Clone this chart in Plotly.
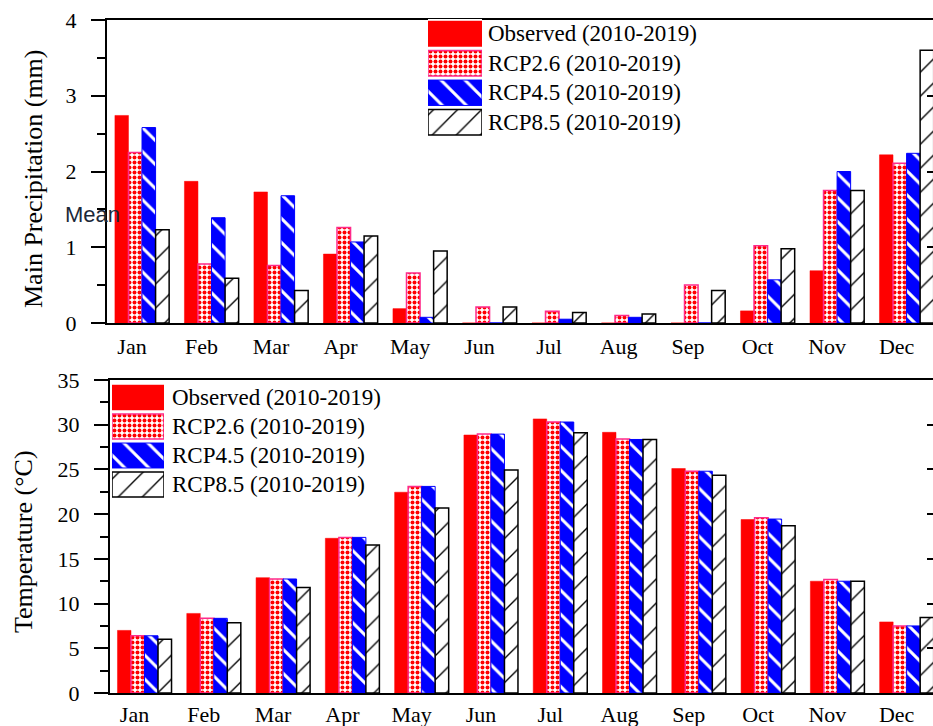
import plotly.graph_objects as go

W, H = 933, 726

months = ["Jan", "Feb", "Mar", "Apr", "May", "Jun", "Jul", "Aug", "Sep", "Oct", "Nov", "Dec"]
series_names = ["Observed (2010-2019)", "RCP2.6 (2010-2019)", "RCP4.5 (2010-2019)", "RCP8.5 (2010-2019)"]

# Mean precipitation (mm)
obs_p = [2.74, 1.87, 1.73, 0.91, 0.19, 0, 0, 0, 0, 0.16, 0.69, 2.22]
rcp26_p = [2.25, 0.78, 0.76, 1.26, 0.66, 0.21, 0.155, 0.10, 0.50, 1.02, 1.75, 2.11]
rcp45_p = [2.58, 1.39, 1.68, 1.07, 0.075, 0, 0.05, 0.075, 0, 0.57, 2.0, 2.24]
rcp85_p = [1.23, 0.59, 0.43, 1.15, 0.95, 0.21, 0.14, 0.12, 0.43, 0.98, 1.75, 3.60]

# Temperature (°C)
obs_t = [7.0, 8.9, 12.9, 17.3, 22.45, 28.85, 30.65, 29.15, 25.1, 19.4, 12.5, 7.95]
rcp26_t = [6.4, 8.35, 12.75, 17.4, 23.1, 28.95, 30.3, 28.4, 24.8, 19.6, 12.7, 7.5]
rcp45_t = [6.4, 8.35, 12.75, 17.4, 23.1, 28.95, 30.3, 28.35, 24.8, 19.45, 12.5, 7.5]
rcp85_t = [6.0, 7.85, 11.8, 16.55, 20.7, 24.95, 29.1, 28.35, 24.35, 18.7, 12.5, 8.45]

SERIF = "Liberation Serif, Times New Roman, serif"

styles = [
    dict(color="#ff0000", line=dict(color="#ff0000", width=0.5), pattern=dict(shape="")),
    dict(color="#ffffff", line=dict(color="#ff2a8a", width=1.5),
         pattern=dict(shape=".", fgcolor="#ff0000", bgcolor="#ffffff", size=5, solidity=0.5, fgopacity=1)),
    dict(color="#0000ff", line=dict(color="#0000ff", width=1),
         pattern=dict(shape="\\", fgcolor="#ffffff", bgcolor="#0000ff", size=17, solidity=0.18, fgopacity=1)),
    dict(color="#ffffff", line=dict(color="#000000", width=1.5),
         pattern=dict(shape="/", fgcolor="#000000", bgcolor="#ffffff", size=17, solidity=0.08, fgopacity=1)),
]

x_idx = list(range(len(months)))
fig = go.Figure()

precip = [obs_p, rcp26_p, rcp45_p, rcp85_p]
temp = [obs_t, rcp26_t, rcp45_t, rcp85_t]

for name, vals, st in zip(series_names, precip, styles):
    fig.add_trace(go.Bar(x=x_idx, y=vals, name=name, marker=st, xaxis="x", yaxis="y",
                         showlegend=False, offsetgroup=name))
for name, vals, st in zip(series_names, temp, styles):
    fig.add_trace(go.Bar(x=x_idx, y=vals, name=name, marker=st, xaxis="x2", yaxis="y2",
                         showlegend=False, offsetgroup=name))

# custom legend swatches (horizontal bars on hidden axes)
legend_rows = list(range(len(series_names)))
for i, st in enumerate(styles):
    fig.add_trace(go.Bar(x=[1], y=[legend_rows[i]], orientation="h", marker=st, width=0.86,
                         xaxis="x3", yaxis="y3", showlegend=False, hoverinfo="skip"))
    fig.add_trace(go.Bar(x=[1], y=[legend_rows[i]], orientation="h", marker=st, width=0.86,
                         xaxis="x4", yaxis="y4", showlegend=False, hoverinfo="skip"))

# tick marks on the right side (no line)
fig.add_trace(go.Scatter(x=[None], y=[None], xaxis="x", yaxis="y5", showlegend=False))
fig.add_trace(go.Scatter(x=[None], y=[None], xaxis="x2", yaxis="y6", showlegend=False))

def px_x(p):
    return p / W

def px_y(p):
    return 1 - p / H

xcommon = dict(
    showline=True, linecolor="black", linewidth=2, mirror=True,
    ticks="outside", ticklen=3, tickcolor="rgba(0,0,0,0)",
    tickvals=x_idx, ticktext=months, ticklabelshift=-10,
    tickfont=dict(family=SERIF, size=22, color="black"),
    showgrid=False, zeroline=False, automargin=False,
)
ycommon = dict(
    showline=True, linecolor="black", linewidth=2, mirror=False,
    ticks="outside", ticklen=14, tickwidth=2, tickcolor="black",
    tickfont=dict(family=SERIF, size=22, color="black"),
    ticklabelstandoff=10,
    showgrid=False, zeroline=False, automargin=False,
)
hidden = dict(visible=False, automargin=False, fixedrange=True)

fig.update_layout(
    width=W, height=H, autosize=False,
    margin=dict(l=0, r=0, t=0, b=0, pad=0),
    paper_bgcolor="white", plot_bgcolor="white",
    barmode="group", bargap=0.22, bargroupgap=0,
    xaxis=dict(xcommon, domain=[px_x(107), 1], range=[-0.504, 11.38], anchor="y"),
    yaxis=dict(ycommon, domain=[px_y(323), px_y(20)], range=[0, 4], dtick=1, anchor="x",
               minor=dict(dtick=0.5, ticklen=8, tickwidth=2, tickcolor="black", ticks="outside")),
    xaxis2=dict(xcommon, domain=[px_x(110), 1], range=[-0.498, 11.38], anchor="y2", ticklen=1),
    yaxis2=dict(ycommon, domain=[px_y(693), px_y(380)], range=[0, 35], dtick=5, anchor="x2",
                minor=dict(dtick=2.5, ticklen=8, tickwidth=2, tickcolor="black", ticks="outside")),
    xaxis3=dict(hidden, domain=[px_x(428), px_x(482)], range=[0, 1], anchor="y3"),
    yaxis3=dict(hidden, domain=[px_y(137), px_y(19)], range=[3.5, -0.5], anchor="x3"),
    xaxis4=dict(hidden, domain=[px_x(112), px_x(164)], range=[0, 1], anchor="y4"),
    yaxis4=dict(hidden, domain=[px_y(499), px_y(383)], range=[3.5, -0.5], anchor="x4"),
    yaxis5=dict(overlaying="y", side="right", range=[0, 4], dtick=1, showline=False,
                ticks="inside", ticklen=6, tickwidth=2, tickcolor="black", automargin=False,
                showticklabels=False, showgrid=False, zeroline=False, anchor="x"),
    yaxis6=dict(overlaying="y2", side="right", range=[0, 35], dtick=5, showline=False,
                ticks="inside", ticklen=6, tickwidth=2, tickcolor="black", automargin=False,
                showticklabels=False, showgrid=False, zeroline=False, anchor="x2"),
)

annotations = []
for i, name in enumerate(series_names):
    annotations.append(dict(text=name, x=px_x(486), xref="paper", y=legend_rows[i], yref="y3",
                            xanchor="left", yanchor="middle", showarrow=False,
                            font=dict(family=SERIF, size=23, color="black")))
    annotations.append(dict(text=name, x=px_x(170), xref="paper", y=legend_rows[i], yref="y4",
                            xanchor="left", yanchor="middle", showarrow=False,
                            font=dict(family=SERIF, size=23, color="black")))

annotations.append(dict(text="Main Precipitation (mm)", x=px_x(33), xref="paper",
                        y=px_y(179), yref="paper", textangle=-90, showarrow=False,
                        xanchor="center", yanchor="middle",
                        font=dict(family=SERIF, size=26, color="black")))
annotations.append(dict(text="Temperature (°C)", x=px_x(23), xref="paper",
                        y=px_y(542), yref="paper", textangle=-90, showarrow=False,
                        xanchor="center", yanchor="middle",
                        font=dict(family=SERIF, size=26, color="black")))
annotations.append(dict(text="Mean", x=px_x(63), xref="paper", y=px_y(215), yref="paper",
                        xanchor="left", yanchor="middle", showarrow=False,
                        font=dict(family="Liberation Sans, Arial, sans-serif", size=22, color="#1c2838")))

fig.update_layout(annotations=annotations)

fig.write_html(
    "out.html",
    config={"responsive": False, "displayModeBar": False},
    post_script="document.body.style.margin='0';document.body.style.padding='0';"
                "document.body.style.overflow='hidden';",
)
